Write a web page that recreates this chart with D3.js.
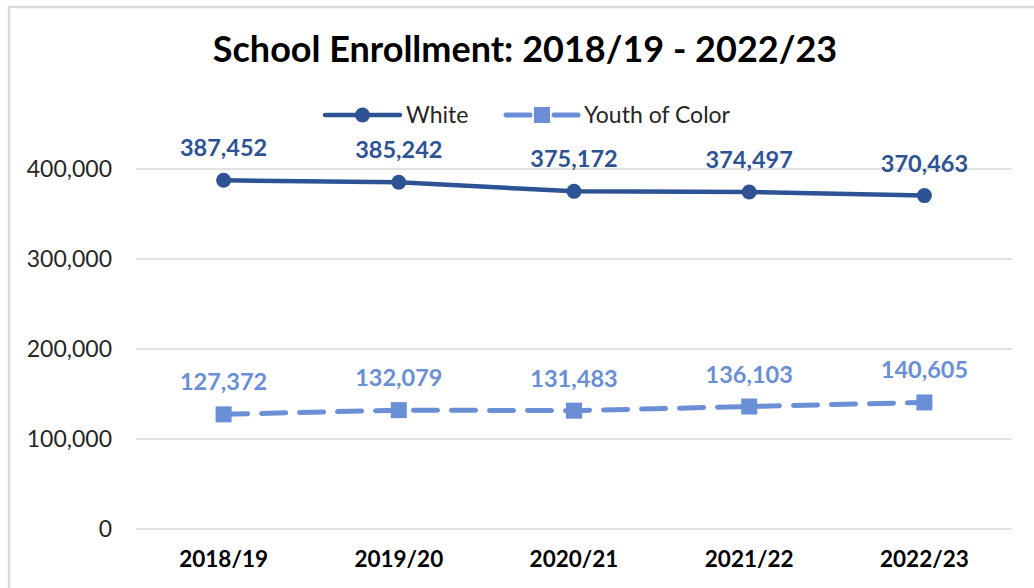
<!DOCTYPE html>
<html>
<head>
<meta charset="utf-8">
<script src="https://cdn.jsdelivr.net/npm/d3@7/dist/d3.min.js"></script>
<style>
  html, body { margin: 0; padding: 0; background: #fff; }
  svg { display: block; font-family: Lato, "Open Sans", sans-serif; }
</style>
</head>
<body>
<svg id="chart" width="1034" height="588"></svg>
<script>
// School years on the x axis
const years = ["2018/19", "2019/20", "2020/21", "2021/22", "2022/23"];
// Enrollment counts per group
const whiteValues = [387452, 385242, 375172, 374497, 370463];
const youthOfColorValues = [127372, 132079, 131483, 136103, 140605];
// Y axis ticks
const yTicks = [0, 100000, 200000, 300000, 400000];

const seriesNames = ["White", "Youth of Color"];
const colors = { "White": "#2E5395", "Youth of Color": "#6A8FD6" };

const W = 1034, H = 588;
const margin = { left: 136, right: 22, top: 169, bottom: 59 };

const svg = d3.select("#chart");

// Chart frame
svg.append("path")
  .attr("d", `M9,${H} L9,7 L${W},7`)
  .attr("fill", "none")
  .attr("stroke", "#d9d9d9")
  .attr("stroke-width", 2.5);

const x = d3.scaleBand().domain(years).range([margin.left, W - margin.right]);
const y = d3.scaleLinear().domain([0, 400000]).range([H - margin.bottom, margin.top]);
const cx = d => x(d) + x.bandwidth() / 2;

// Gridlines
svg.append("g").selectAll("line").data(yTicks).join("line")
  .attr("x1", margin.left).attr("x2", W - margin.right)
  .attr("y1", d => y(d)).attr("y2", d => y(d))
  .attr("stroke", "#d9d9d9").attr("stroke-width", 1.5);

// Y axis labels
const yAxis = svg.append("g")
  .attr("transform", `translate(${margin.left - 24},0)`)
  .call(d3.axisLeft(y).tickValues(yTicks).tickSize(0).tickPadding(0).tickFormat(d3.format(",")));
yAxis.select(".domain").remove();
yAxis.selectAll("text")
  .attr("font-family", "Lato, sans-serif")
  .attr("font-size", 23).attr("fill", "#262626").attr("dy", "0.34em");

// X axis labels
const xAxis = svg.append("g")
  .attr("transform", `translate(0,${H - margin.bottom + 24})`)
  .call(d3.axisBottom(x).tickSize(0).tickPadding(0));
xAxis.select(".domain").remove();
xAxis.selectAll("text")
  .attr("font-family", "Lato, sans-serif")
  .attr("font-size", 22.5).attr("font-weight", "bold").attr("fill", "#000").attr("dy", "0.6em");

// Title
svg.append("text")
  .attr("x", 525).attr("y", 62)
  .attr("text-anchor", "middle")
  .attr("font-size", 36).attr("font-weight", "bold").attr("fill", "#000")
  .text("School Enrollment: 2018/19 - 2022/23");

const line = d3.line().x(d => cx(d.year)).y(d => y(d.value));

const whiteData = years.map((yr, i) => ({ year: yr, value: whiteValues[i] }));
const yocData = years.map((yr, i) => ({ year: yr, value: youthOfColorValues[i] }));

// White series: solid line with circle markers
svg.append("path").datum(whiteData)
  .attr("d", line).attr("fill", "none")
  .attr("stroke", colors["White"]).attr("stroke-width", 4.5)
  .attr("stroke-linejoin", "round");
svg.append("g").selectAll("circle").data(whiteData).join("circle")
  .attr("cx", d => cx(d.year)).attr("cy", d => y(d.value)).attr("r", 7.5)
  .attr("fill", colors["White"]);
svg.append("g").selectAll("text").data(whiteData).join("text")
  .attr("x", d => cx(d.year)).attr("y", d => y(d.value) - 24)
  .attr("text-anchor", "middle")
  .attr("font-size", 23.5).attr("font-weight", "bold").attr("fill", colors["White"])
  .text(d => d3.format(",")(d.value));

// Youth of Color series: dashed line with square markers
svg.append("path").datum(yocData)
  .attr("d", line).attr("fill", "none")
  .attr("stroke", colors["Youth of Color"]).attr("stroke-width", 5)
  .attr("stroke-dasharray", "24,14").attr("stroke-linecap", "round");
svg.append("g").selectAll("rect").data(yocData).join("rect")
  .attr("x", d => cx(d.year) - 8).attr("y", d => y(d.value) - 8)
  .attr("width", 16).attr("height", 16)
  .attr("fill", colors["Youth of Color"]);
svg.append("g").selectAll("text").data(yocData).join("text")
  .attr("x", d => cx(d.year)).attr("y", d => y(d.value) - 24)
  .attr("text-anchor", "middle")
  .attr("font-size", 23.5).attr("font-weight", "bold").attr("fill", colors["Youth of Color"])
  .text(d => d3.format(",")(d.value));

// Legend
const legend = svg.append("g");
const ly = 115;
const legendItems = [
  { name: "White", x0: 325, x1: 400, marker: "circle" },
  { name: "Youth of Color", x0: 506, x1: 578, marker: "rect" }
];
legendItems.forEach(it => {
  const mid = (it.x0 + it.x1) / 2;
  const g = legend.append("g");
  if (it.marker === "circle") {
    g.append("line").attr("x1", it.x0).attr("x2", it.x1).attr("y1", ly).attr("y2", ly)
      .attr("stroke", colors[it.name]).attr("stroke-width", 4.5).attr("stroke-linecap", "round");
    g.append("circle").attr("cx", mid).attr("cy", ly).attr("r", 7.5).attr("fill", colors[it.name]);
  } else {
    g.append("line").attr("x1", it.x0).attr("x2", mid - 12).attr("y1", ly).attr("y2", ly)
      .attr("stroke", colors[it.name]).attr("stroke-width", 5).attr("stroke-linecap", "round");
    g.append("line").attr("x1", mid + 12).attr("x2", it.x1).attr("y1", ly).attr("y2", ly)
      .attr("stroke", colors[it.name]).attr("stroke-width", 5).attr("stroke-linecap", "round");
    g.append("rect").attr("x", mid - 8).attr("y", ly - 8).attr("width", 16).attr("height", 16)
      .attr("fill", colors[it.name]);
  }
  g.append("text").attr("x", it.x1 + 6).attr("y", ly).attr("dy", "0.35em")
    .attr("font-size", 23).attr("fill", "#262626").text(it.name);
});
</script>
</body>
</html>
